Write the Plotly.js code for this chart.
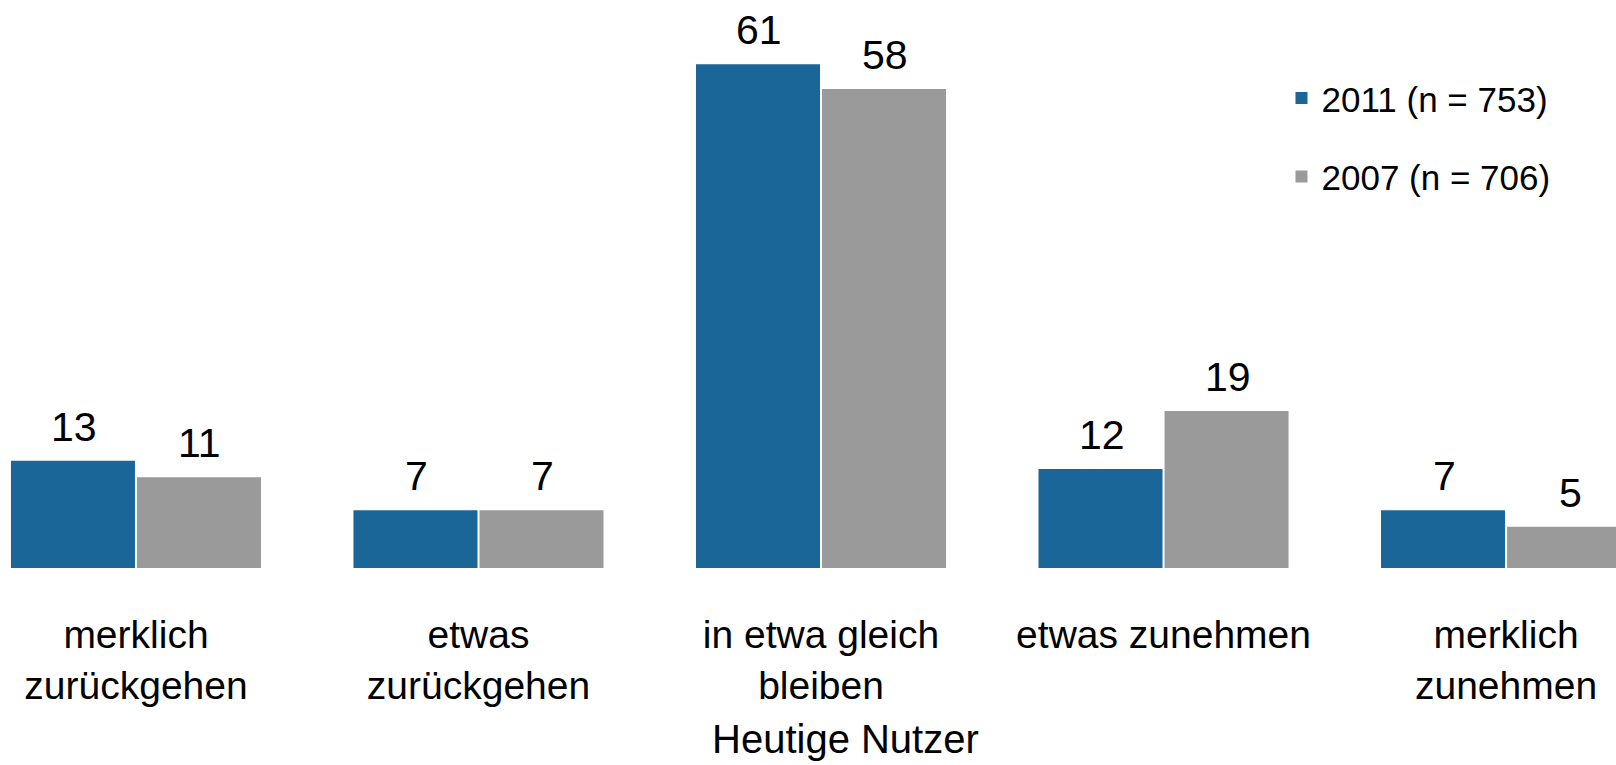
<!DOCTYPE html>
<html>
<head>
<meta charset="utf-8">
<script src="https://cdn.plot.ly/plotly-3.0.1.min.js"></script>
<style>html,body{margin:0;padding:0;background:#fff;}#chart{width:1616px;height:765px;}</style>
</head>
<body>
<div id="chart"></div>
<script>
const categories = ["merklich<br>zurückgehen", "etwas<br>zurückgehen", "in etwa gleich<br>bleiben", "etwas zunehmen", "merklich<br>zunehmen"];
const values2011 = [13, 7, 61, 12, 7];
const values2007 = [11, 7, 58, 19, 5];
const seriesNames = ["2011 (n = 753)", "2007 (n = 706)"];
const axisTitle = "Heutige Nutzer";

const FONT = "Liberation Sans, Arial, sans-serif";
const COLORS = ["#1b6698", "#9a9a9a"];

const traces = [values2011, values2007].map((vals, i) => ({
  type: "bar", x: categories, y: vals, name: seriesNames[i],
  marker: {color: COLORS[i]}, legendgroup: "g" + i,
  cliponaxis: true, hoverinfo: "skip"
}));

// value labels above each bar (half a bar slot left/right of the category)
const labelAnnotations = [];
[values2011, values2007].forEach((vals, i) => {
  vals.forEach((v, j) => {
    labelAnnotations.push({
      text: String(v), xref: "x", yref: "y", x: categories[j], y: v,
      xshift: i === 0 ? -62 : 64, yshift: 9,
      xanchor: "center", yanchor: "bottom", showarrow: false,
      font: {family: FONT, size: 41, color: "#000"}
    });
  });
});

const layout = {
  width: 1616, height: 765,
  margin: {l: 0, r: 0, t: 0, b: 197},
  paper_bgcolor: "#fff", plot_bgcolor: "#fff",
  font: {family: FONT, color: "#000"},
  barmode: "group", bargap: 0.264, bargroupgap: 0.016,
  xaxis: {
    type: "category",
    range: [-0.397, 4.321],
    showgrid: false, zeroline: false, showline: false,
    ticks: "", ticklabelstandoff: 40,
    tickfont: {family: FONT, size: 39, color: "#000"}
  },
  yaxis: {
    range: [0, 68.77], visible: false, showgrid: false, zeroline: false
  },
  showlegend: true,
  legend: {
    x: 0.793, y: 0.879, xanchor: "left", yanchor: "top",
    font: {family: FONT, size: 35, color: "#000"},
    traceorder: "grouped", tracegroupgap: 30,
    bgcolor: "rgba(0,0,0,0)"
  },
  annotations: labelAnnotations.concat([{
    text: axisTitle, xref: "paper", yref: "paper",
    x: 845/1616, y: 0, yshift: -171, xanchor: "center", yanchor: "middle",
    showarrow: false, font: {family: FONT, size: 40, color: "#000"}
  }])
};

Plotly.newPlot("chart", traces, layout, {staticPlot: true, displayModeBar: false});
</script>
</body>
</html>
